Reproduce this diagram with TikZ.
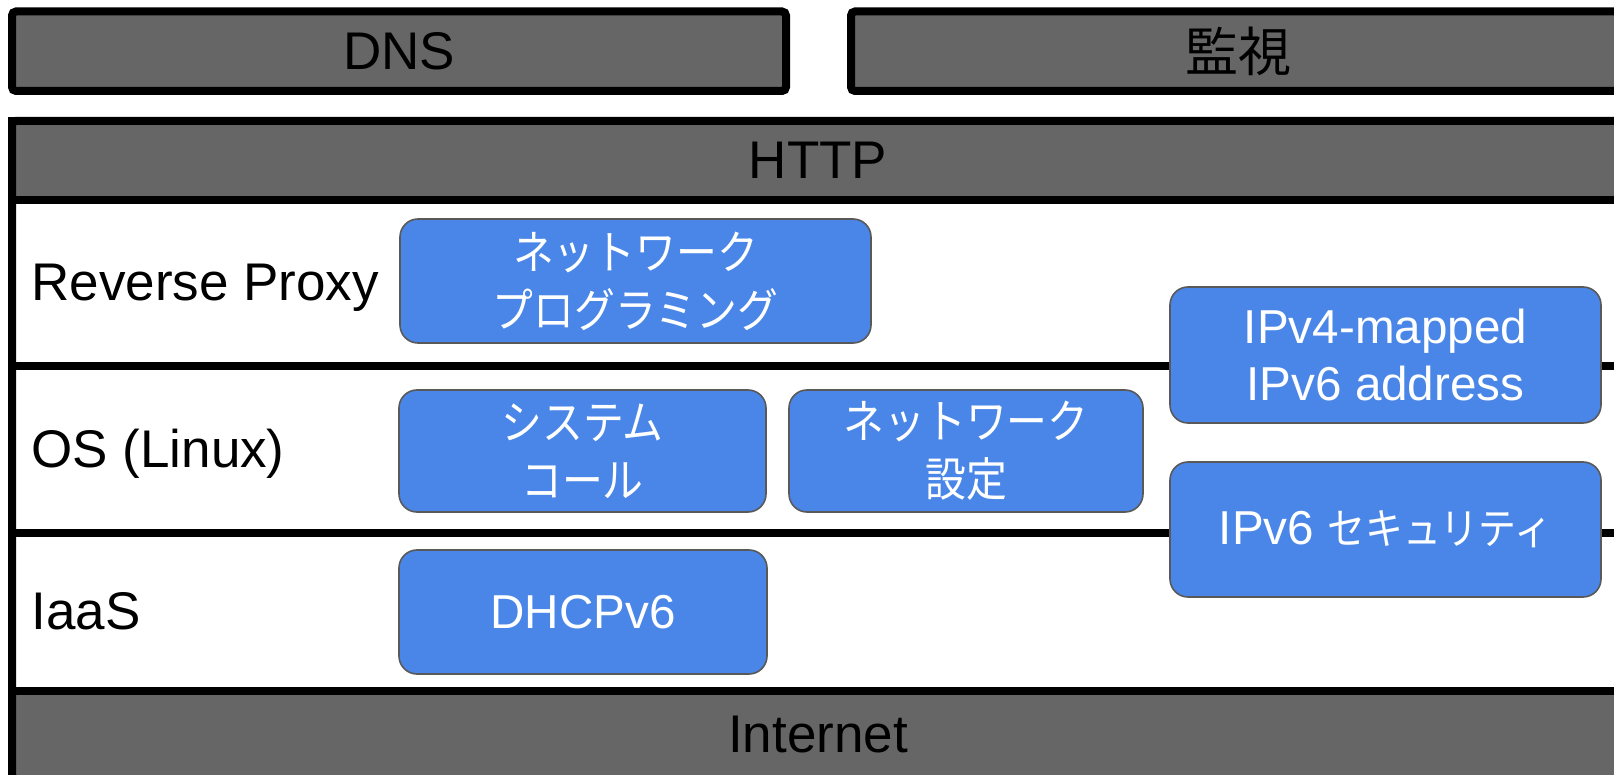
\documentclass[tikz,border=0pt]{standalone}
\usepackage{fontspec}
\setmainfont{Liberation Sans}
\newfontfamily\jp[FakeStretch=0.88]{Noto Sans CJK JP}
\newfontfamily\jpwide{Noto Sans CJK JP}
\definecolor{barfill}{HTML}{666666}
\definecolor{boxblue}{HTML}{4A86E8}
\definecolor{boxedge}{HTML}{595959}

\begin{document}
\begin{tikzpicture}[x=0.5pt,y=-0.5pt,
  bar/.style={draw=black, line width=4pt, fill=barfill, rounded corners=2pt,
    inner sep=0pt, text=black, font=\fontsize{26.5}{30}\selectfont},
  rule/.style={draw=black, line width=4pt},
  rowlabel/.style={anchor=base west, inner sep=0pt, font=\fontsize{26.5}{30}\selectfont},
  topic/.style={draw=boxedge, line width=0.8pt, fill=boxblue, rounded corners=9pt,
    text=white, align=center, inner sep=0pt, font=\fontsize{23.8}{28.7}\selectfont},
  jptopic/.style={topic, font=\jp\fontsize{23.2}{29}\selectfont},
]
\useasboundingbox (0,0) rectangle (1614,775);
\clip (0,0) rectangle (1614,775);

% top services
\node[bar, minimum width=387pt, minimum height=39.75pt] (dns) at (399,51.25) {DNS};
\node[bar, minimum width=387.5pt, minimum height=39.75pt, font=\jpwide\fontsize{26.5}{30}\selectfont] (mon) at (1238.5,51.25) {監視};

% layered stack
\fill[white] (12,121) rectangle (1624,779);
\node[bar, rounded corners=0pt, minimum width=806pt, minimum height=39.5pt] (http) at (818,160.5) {HTTP};
\node[bar, rounded corners=0pt, minimum width=806pt, minimum height=44pt] (net) at (818,735) {Internet};
\coordinate (s1l) at (12,366.5);
\coordinate (s1r) at (1624,366.5);
\coordinate (s2l) at (12,533.5);
\coordinate (s2r) at (1624,533.5);
\draw[rule] (s1l) -- (s1r);
\draw[rule] (s2l) -- (s2r);
\draw[rule, rounded corners=2pt] (12,121) rectangle (1624,779);

% layer names
\node[rowlabel] (rp) at (31,301) {Reverse Proxy};
\node[rowlabel] (os) at (31,468) {OS (Linux)};
\node[rowlabel] (iaas) at (31,630) {IaaS};

% topics
\node[jptopic, minimum width=235.5pt, minimum height=62pt] (np) at (635.5,281) {ネットワーク\\プログラミング};
\node[jptopic, minimum width=183.5pt, minimum height=61pt] (sc) at (582.5,451) {システム\\コール};
\node[jptopic, minimum width=177pt, minimum height=61pt] (ns) at (966,451) {ネットワーク\\設定};
\node[topic, minimum width=184pt, minimum height=62pt] (dhcp) at (583,612) {DHCPv6};
\node[topic, minimum width=215.5pt, minimum height=68pt] (map) at (1385.5,355) {IPv4-mapped\\IPv6 address};
\node[topic, minimum width=215.5pt, minimum height=67.5pt] (sec) at (1385.5,529.5) {IPv6 {\jp\fontsize{21.5}{29}\selectfont セキュリティ}};
\end{tikzpicture}
\end{document}
